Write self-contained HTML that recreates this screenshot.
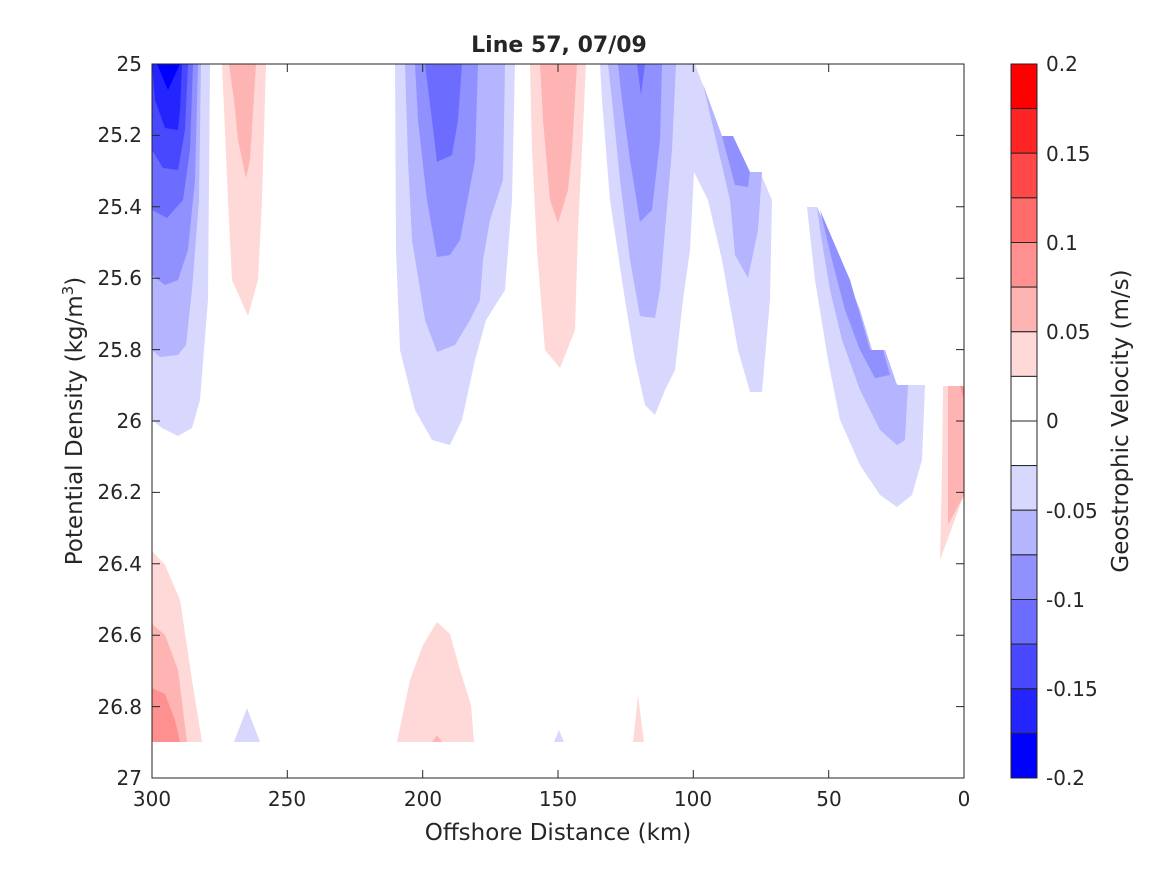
<!DOCTYPE html>
<html><head><meta charset="utf-8"><style>
body{margin:0;background:#fff;}
svg text{font-family:"DejaVu Sans","Liberation Sans",sans-serif;fill:#262626;}
</style></head><body>
<svg width="1167" height="875" viewBox="0 0 1167 875" xmlns="http://www.w3.org/2000/svg">
<rect width="1167" height="875" fill="#fff"/>
<g stroke="none">
<polygon fill="#d8d8ff" points="152,64 210,64 208,300 200,400 192,428 178,436 162,428 152,420"/>
<polygon fill="#b4b4ff" points="152,64 201,64 199,200 192,290 186,345 178,355 160,357 152,350"/>
<polygon fill="#9090ff" points="152,64 198,64 195,180 188,250 178,280 165,285 152,275"/>
<polygon fill="#6c6cff" points="152,64 193,64 190,150 183,200 167,218 152,210"/>
<polygon fill="#4848ff" points="152,64 188,64 185,130 178,170 163,168 152,150"/>
<polygon fill="#2424ff" points="152,64 182,64 180,110 178,130 165,128 155,100"/>
<polygon fill="#0000ff" points="157,64 180,64 168,90"/>
<polygon fill="#ffd8d8" points="222,64 266,64 262,200 258,280 248,316 232,280 228,200"/>
<polygon fill="#ffb4b4" points="229,64 256,64 250,160 246,178 238,140 234,100"/>
<polygon fill="#d8d8ff" points="395,64 515,64 512,200 505,290 486,320 475,360 462,420 450,445 432,440 415,410 400,350 396,250"/>
<polygon fill="#b4b4ff" points="405,64 505,64 503,180 490,220 483,260 480,300 470,320 455,345 437,352 425,320 412,240 408,160"/>
<polygon fill="#9090ff" points="415,64 478,64 475,160 460,240 450,255 437,257 427,200 418,120"/>
<polygon fill="#6c6cff" points="425,64 462,64 458,120 452,155 437,162 432,120"/>
<polygon fill="#ffd8d8" points="530,64 586,64 582,150 578,230 575,330 560,368 545,350 537,250 532,150"/>
<polygon fill="#ffb4b4" points="540,64 577,64 572,150 568,190 558,223 550,200 543,120"/>
<polygon fill="#d8d8ff" points="600,64 695,64 722,136 734,172 760,172 772,200 770,300 762,392 750,392 738,350 722,260 708,200 694,172 690,250 683,300 675,370 665,390 655,415 645,405 635,360 625,300 610,200 602,100"/>
<polygon fill="#b4b4ff" points="608,64 676,64 672,150 665,230 660,290 655,318 640,316 630,260 620,180 612,100"/>
<polygon fill="#9090ff" points="618,64 662,64 660,140 652,210 640,222 630,160 622,100"/>
<polygon fill="#6c6cff" points="637,64 645,64 641,95"/>
<polygon fill="#b4b4ff" points="703,84 722,136 733,136 745,172 762,172 758,230 748,278 735,255 730,200 716,140"/>
<polygon fill="#9090ff" points="722,136 733,136 750,172 748,187 735,185"/>
<polygon fill="#d8d8ff" points="807,207 817,207 850,280 870,350 898,385 925,385 922,460 912,495 897,507 880,495 860,465 840,420 828,360 815,280"/>
<polygon fill="#b4b4ff" points="817,207 840,260 860,310 872,350 885,350 897,385 908,385 905,440 897,445 880,430 860,390 842,340 830,290 820,230"/>
<polygon fill="#9090ff" points="820,210 850,280 870,350 883,350 890,375 875,378 860,350 845,310 832,260"/>
<polygon fill="#ffd8d8" points="943,386 964,386 964,495 940,560 942,470"/>
<polygon fill="#ffb4b4" points="948,386 964,386 964,495 948,525"/>
<polygon fill="#ff9090" points="960,386 964,386 964,400"/>
<polygon fill="#ffd8d8" points="152,551 165,565 180,600 192,680 202,742 152,742"/>
<polygon fill="#ffb4b4" points="152,624 165,635 178,670 187,742 152,742"/>
<polygon fill="#ff9090" points="152,688 165,694 175,720 180,742 152,742"/>
<polygon fill="#d8d8ff" points="234,742 247,708 260,742"/>
<polygon fill="#ffd8d8" points="397,742 410,680 423,645 437,622 450,634 460,670 471,705 474,742"/>
<polygon fill="#ffb4b4" points="432,742 437,735 442,742"/>
<polygon fill="#d8d8ff" points="554,742 559,730 564,742"/>
<polygon fill="#ffd8d8" points="633,742 638,695 644,742"/>
</g>
<rect x="152" y="64" width="812" height="714" fill="none" stroke="#262626" stroke-width="1"/>
<g stroke="#262626" stroke-width="1">
<path d="M152,64h8M152,135.4h8M152,206.8h8M152,278.2h8M152,349.6h8M152,421h8M152,492.4h8M152,563.8h8M152,635.2h8M152,706.6h8M152,778h8"/>
<path d="M964,64h-8M964,135.4h-8M964,206.8h-8M964,278.2h-8M964,349.6h-8M964,421h-8M964,492.4h-8M964,563.8h-8M964,635.2h-8M964,706.6h-8M964,778h-8"/>
<path d="M152,778v-8M287.3,778v-8M422.7,778v-8M558,778v-8M693.3,778v-8M828.7,778v-8M964,778v-8"/>
<path d="M152,64v8M287.3,64v8M422.7,64v8M558,64v8M693.3,64v8M828.7,64v8M964,64v8"/>
</g>
<g font-size="20" text-anchor="end">
<text x="142" y="71">25</text><text x="142" y="142">25.2</text><text x="142" y="214">25.4</text><text x="142" y="285">25.6</text><text x="142" y="357">25.8</text><text x="142" y="428">26</text><text x="142" y="499">26.2</text><text x="142" y="571">26.4</text><text x="142" y="642">26.6</text><text x="142" y="714">26.8</text><text x="142" y="785">27</text>
</g>
<g font-size="20" text-anchor="middle">
<text x="152" y="806">300</text><text x="287" y="806">250</text><text x="423" y="806">200</text><text x="558" y="806">150</text><text x="693" y="806">100</text><text x="829" y="806">50</text><text x="964" y="806">0</text>
</g>
<text x="558" y="840" font-size="23" text-anchor="middle">Offshore Distance (km)</text>
<text x="559" y="52" font-size="22" font-weight="bold" fill="#000" text-anchor="middle">Line 57, 07/09</text>
<text font-size="23" text-anchor="middle" transform="translate(82,421) rotate(-90)">Potential Density (kg/m<tspan font-size="15" dy="-9">3</tspan><tspan dy="9">)</tspan></text>
<g stroke="#262626" stroke-width="1">
<rect x="1011" y="64" width="26" height="44.6" fill="#ff0000"/>
<rect x="1011" y="108.6" width="26" height="44.6" fill="#ff2424"/>
<rect x="1011" y="153.2" width="26" height="44.6" fill="#ff4848"/>
<rect x="1011" y="197.9" width="26" height="44.6" fill="#ff6c6c"/>
<rect x="1011" y="242.5" width="26" height="44.6" fill="#ff9090"/>
<rect x="1011" y="287.1" width="26" height="44.6" fill="#ffb4b4"/>
<rect x="1011" y="331.8" width="26" height="44.6" fill="#ffd8d8"/>
<rect x="1011" y="376.4" width="26" height="44.6" fill="#ffffff"/>
<rect x="1011" y="421" width="26" height="44.6" fill="#ffffff"/>
<rect x="1011" y="465.6" width="26" height="44.6" fill="#d8d8ff"/>
<rect x="1011" y="510.2" width="26" height="44.6" fill="#b4b4ff"/>
<rect x="1011" y="554.9" width="26" height="44.6" fill="#9090ff"/>
<rect x="1011" y="599.5" width="26" height="44.6" fill="#6c6cff"/>
<rect x="1011" y="644.1" width="26" height="44.6" fill="#4848ff"/>
<rect x="1011" y="688.8" width="26" height="44.6" fill="#2424ff"/>
<rect x="1011" y="733.4" width="26" height="44.6" fill="#0000ff"/>
</g>
<g font-size="20">
<text x="1046" y="71">0.2</text><text x="1046" y="161">0.15</text><text x="1046" y="250">0.1</text><text x="1046" y="339">0.05</text><text x="1046" y="428">0</text><text x="1046" y="518">-0.05</text><text x="1046" y="607">-0.1</text><text x="1046" y="696">-0.15</text><text x="1046" y="785">-0.2</text>
</g>
<text font-size="23" text-anchor="middle" transform="translate(1128,421) rotate(-90)">Geostrophic Velocity (m/s)</text>
</svg>
</body></html>
